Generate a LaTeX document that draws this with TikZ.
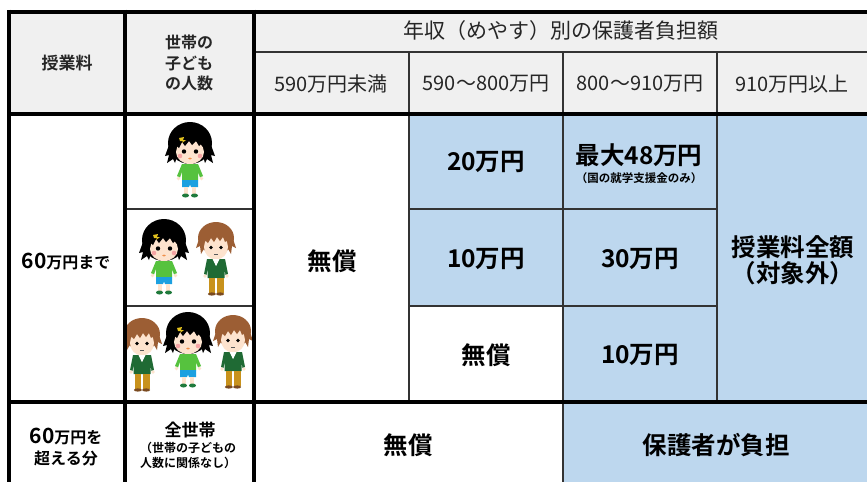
\documentclass[tikz,border=0pt]{standalone}
\usepackage{fontspec}
\setmainfont{Noto Sans CJK JP}[BoldFont={Noto Sans CJK JP Bold}]
\definecolor{hdrgray}{HTML}{F0F0F0}
\definecolor{cellblue}{HTML}{BDD7EE}
\definecolor{gridgray}{HTML}{333333}
\definecolor{hdrtext}{HTML}{262626}
\definecolor{skin}{HTML}{FDE3CE}
\definecolor{shirtgreen}{HTML}{56C23E}
\definecolor{shortsblue}{HTML}{1CA0E0}
\definecolor{shoegreen}{HTML}{1F7A3C}
\definecolor{hairbrown}{HTML}{9C5E34}
\definecolor{vestgreen}{HTML}{1F6A34}
\definecolor{pantsmustard}{HTML}{C8921C}
\definecolor{shoebrown}{HTML}{7A4A20}
\definecolor{cheekpink}{HTML}{F5A3A3}
\definecolor{clipyellow}{HTML}{E3C21E}
\definecolor{mouthorange}{HTML}{F0904A}
\newcommand{\setfs}[2]{\fontsize{#1}{#2}\selectfont}
\newcommand{\kidgirl}[2]{%
\begin{scope}[shift={(#1,#2)}]
 \fill[black] (0,-6) ellipse [x radius=22pt, y radius=21pt];
 \fill[black] (-21,-4) -- (-25,7) -- (-21,6) -- (-23,14) -- (-17,10) -- (-15,14) -- (-12,4) -- cycle;
 \fill[black] (21,-4) -- (25,7) -- (21,6) -- (23,14) -- (17,10) -- (15,14) -- (12,4) -- cycle;
 \fill[skin] (-2.5,12) rectangle (2.5,17);
 \fill[skin] (0,3) ellipse [x radius=14pt, y radius=12pt];
 \fill[black] (-16,4) -- (-14,-4) -- (-11,-1) -- (-8,-7) -- (-5,-3) -- (-1,-8) -- (2,-4) -- (6,-8) -- (9,-3) -- (12,-6) -- (14,-1) -- (16,4) -- (19,-8) -- (0,-16) -- (-19,-8) -- cycle;
 \fill[clipyellow] (-11,-11) -- (-6,-12) -- (-7,-9) -- (-4,-9) -- (-8,-6) -- (-7,-8) -- (-10,-8) -- cycle;
 \fill[black] (-6,2.5) circle [radius=2.2pt];
 \fill[black] (6,2.5) circle [radius=2.2pt];
 \fill[cheekpink] (-10,7) circle [radius=2.3pt];
 \fill[cheekpink] (10,7) circle [radius=2.3pt];
 \fill[mouthorange] (0,9.5) ellipse [x radius=1.8pt, y radius=1pt];
 \fill[shirtgreen] (-8,15) -- (8,15) -- (13,27) -- (10,28.5) -- (8,23) -- (8,31) -- (-8,31) -- (-8,23) -- (-10,28.5) -- (-13,27) -- cycle;
 \fill[skin] (-11.5,29.5) circle [radius=1.8pt];
 \fill[skin] (11.5,29.5) circle [radius=1.8pt];
 \fill[shortsblue] (-8,31) -- (8,31) -- (8,38) -- (1,38) -- (0,35.5) -- (-1,38) -- (-8,38) -- cycle;
 \fill[skin] (-6,38) rectangle (-2,45);
 \fill[skin] (2,38) rectangle (6,45);
 \fill[shoegreen] (-4.5,46.5) ellipse [x radius=3.5pt, y radius=2pt];
 \fill[shoegreen] (4.5,46.5) ellipse [x radius=3.5pt, y radius=2pt];
\end{scope}}
\newcommand{\kidboy}[2]{%
\begin{scope}[shift={(#1,#2)}]
 \fill[hairbrown] (0,-7) ellipse [x radius=18pt, y radius=16pt];
 \fill[hairbrown] (-17,-6) -- (-20,3) -- (-16,1) -- (-15,9) -- (-11,2) -- cycle;
 \fill[hairbrown] (17,-6) -- (20,3) -- (16,1) -- (15,9) -- (11,2) -- cycle;
 \fill[skin] (-2.5,11) rectangle (2.5,15);
 \fill[skin] (0,2) ellipse [x radius=12pt, y radius=12.5pt];
 \fill[hairbrown] (-14,1) -- (-11,-5) -- (-8,-2) -- (-5,-7) -- (-2,-3) -- (1,-8) -- (4,-4) -- (7,-8) -- (9,-3) -- (11,-5) -- (14,1) -- (16,-10) -- (0,-19) -- (-16,-10) -- cycle;
 \fill[black] (-5,2.5) circle [radius=1.9pt];
 \fill[black] (5,2.5) circle [radius=1.9pt];
 \draw[gray!70!black, line width=0.6pt] (-2,9.5) -- (2,9.5);
 \fill[white] (-8,14) rectangle (8,26);
 \fill[vestgreen] (-9,14) -- (-3,14) -- (0,21) -- (3,14) -- (9,14) -- (12,29) -- (9.5,30) -- (8.5,24) -- (8.5,33) -- (-8.5,33) -- (-8.5,24) -- (-9.5,30) -- (-12,29) -- cycle;
 \fill[white] (-3.5,14) -- (3.5,14) -- (0,21) -- cycle;
 \fill[skin] (-11,31) circle [radius=1.8pt];
 \fill[skin] (11,31) circle [radius=1.8pt];
 \fill[pantsmustard] (-7.5,33) rectangle (-0.8,48);
 \fill[pantsmustard] (0.8,33) rectangle (7.5,48);
 \fill[shoebrown] (-4.2,49) ellipse [x radius=4pt, y radius=1.6pt];
 \fill[shoebrown] (4.2,49) ellipse [x radius=4pt, y radius=1.6pt];
\end{scope}}
\tikzset{
 gridthick/.style={line width=4pt, black},
 gridthin/.style={line width=1.3pt, gridgray},
 txt/.style={inner sep=0pt, align=center},
 hdrtxt/.style={txt, text=hdrtext},
 subhdr/.style={hdrtxt, font=\setfs{20}{22}},
 bigbold/.style={txt, font=\setfs{24.5}{28}\bfseries},
}
\begin{document}
\begin{tikzpicture}[x=1pt,y=-1pt]
\useasboundingbox (0,0) rectangle (867,482);
\fill[white] (0,0) rectangle (867,482);
% backgrounds
\fill[hdrgray] (9,12) rectangle (867,113);
\fill[cellblue] (409,113) rectangle (563,306);
\fill[cellblue] (563,113) rectangle (867,482);
% children
\kidgirl{190}{149}
\kidgirl{164}{246}
\kidboy{216}{245}
\begin{scope}
 \clip (125,306) rectangle (254,402);
 \kidboy{142}{341}
 \kidgirl{188}{339}
 \kidboy{233}{338}
\end{scope}
% thin grid lines
\draw[gridthin] (254,52) -- (867,52);
\draw[gridthin] (409,52) -- (409,402);
\draw[gridthin] (563,52) -- (563,482);
\draw[gridthin] (717,52) -- (717,402);
\draw[gridthin] (125,209) -- (254,209);
\draw[gridthin] (409,209) -- (717,209);
\draw[gridthin] (125,306) -- (254,306);
\draw[gridthin] (409,306) -- (717,306);
% thick grid lines
\draw[gridthick] (7,11.5) -- (867,11.5);
\draw[gridthick] (7,113.5) -- (867,113.5);
\draw[gridthick] (7,402) -- (867,402);
\draw[gridthick] (9,9.5) -- (9,482);
\draw[gridthick] (125,9.5) -- (125,482);
\draw[gridthick] (254,9.5) -- (254,482);
% header texts
\node[hdrtxt, font=\setfs{17}{20}\bfseries] (h1) at (67,63) {授業料};
\node[hdrtxt, font=\setfs{16}{20.5}\bfseries] (h2) at (189,63) {世帯の\\子ども\\の人数};
\node[hdrtxt, font=\setfs{21}{24}] (h3) at (561,31) {年収（めやす）別の保護者負担額};
\node[subhdr] (c1) at (331,84) {590万円未満};
\node[subhdr] (c2) at (486,84) {590～800万円};
\node[subhdr] (c3) at (640,84) {800～910万円};
\node[subhdr] (c4) at (792,84) {910万円以上};
% body texts
\node[txt, font=\bfseries] (r1) at (66,261) {{\setfs{21}{24}60}{\setfs{16}{20}万円まで}};
\node[bigbold] (free1) at (332,261) {無償};
\node[bigbold] (a1) at (486,162) {20万円};
\node[bigbold] (b1) at (639,155) {最大48万円};
\node[txt, font=\setfs{11.5}{13}\bfseries] (b1n) at (639,178) {（国の就学支援金のみ）};
\node[bigbold] (a2) at (486,259) {10万円};
\node[bigbold] (b2) at (640,259) {30万円};
\node[txt, font=\setfs{24.5}{26}\bfseries] (d1) at (793,260) {授業料全額\\（対象外）};
\node[bigbold] (a3) at (486,355) {無償};
\node[bigbold] (b3) at (640,355) {10万円};
% bottom row
\node[txt, font=\setfs{16}{21}\bfseries] (r2) at (66,447) {{\setfs{21}{21}60}万円を\\超える分};
\node[txt, font=\setfs{17}{20}\bfseries] (r2b) at (190,430) {全世帯};
\node[txt, font=\setfs{12}{15}\bfseries] (r2c) at (188,455.5) {（世帯の子どもの\\人数に関係なし）};
\node[bigbold] (free2) at (408,445) {無償};
\node[bigbold] (pay) at (716,445) {保護者が負担};
\end{tikzpicture}
\end{document}
